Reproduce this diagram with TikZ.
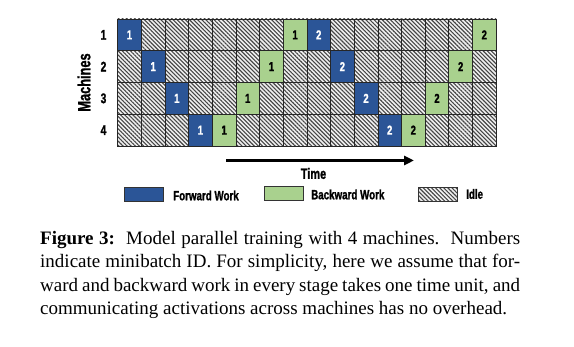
\documentclass[tikz,border=0pt]{standalone}
\usepackage{fontspec}
\setmainfont{Liberation Serif}
\newfontfamily\cond[FakeStretch=0.73,FakeBold=1.2]{Liberation Sans Bold}
\usetikzlibrary{patterns.meta,arrows.meta}
\definecolor{fwd}{RGB}{43,85,151}
\definecolor{bwd}{RGB}{169,209,142}
\definecolor{hatchc}{RGB}{70,70,70}
\begin{document}
\begin{tikzpicture}[x=1pt,y=-1pt,
  cell/.style={draw=black!85, line width=0.7pt, minimum width=23.65pt, minimum height=31.75pt,
    inner sep=0pt, outer sep=0pt, anchor=north west},
  idle/.style={cell, preaction={fill=gray!12},
    pattern={Lines[angle=-45,distance=2.9pt,line width=1.1pt]}, pattern color=hatchc},
  fw/.style={cell, fill=fwd, text=white, font=\cond\fontsize{13}{14}\selectfont},
  bw/.style={cell, fill=bwd, text=black, font=\cond\fontsize{13}{14}\selectfont},
  lab/.style={font=\cond\fontsize{13.4}{15}\selectfont, inner sep=0pt},
  legbox/.style={draw=black!80, line width=0.6pt, minimum width=39pt, minimum height=13.5pt, inner sep=0pt},
  captext/.style={font=\fontsize{19}{23.4}\selectfont, inner sep=0pt, anchor=base west}
]
\useasboundingbox (0,0) rectangle (574,347);
% idle grid
\foreach \r in {1,...,4}
  \foreach \c in {1,...,16}
    \node[idle] (i\r-\c) at ({117.7+(\c-1)*23.65},{19+(\r-1)*31.75}) {};
% work cells
\foreach \r/\c/\t/\n in {1/1/fw/1, 1/8/bw/1, 1/9/fw/2, 1/16/bw/2,
                          2/2/fw/1, 2/7/bw/1, 2/10/fw/2, 2/15/bw/2,
                          3/3/fw/1, 3/6/bw/1, 3/11/fw/2, 3/14/bw/2,
                          4/4/fw/1, 4/5/bw/1, 4/12/fw/2, 4/13/bw/2}
  \node[\t] (w\r-\c) at (i\r-\c.north west) {\n};
% row labels
\foreach \r in {1,...,4}
  \node[lab, font=\cond\fontsize{14}{15}\selectfont] (r\r) at (103.5,{19+(\r-0.5)*31.75}) {\r};
\node[lab, font=\cond\fontsize{17.5}{19}\selectfont, rotate=90] (mach) at (84,82.5) {Machines};
% time arrow
\coordinate (ta) at (226,160.5);
\coordinate (tb) at (414,160.5);
\draw[line width=3pt, -{Triangle[length=10pt,width=9pt]}] (ta) -- (tb);
\node[lab, font=\cond\fontsize{15}{16}\selectfont] (time) at (313.5,173.5) {Time};
% legend
\node[legbox, fill=fwd] (lf) at (143.5,194.5) {};
\node[lab, anchor=west] (lft) at (173,195.5) {Forward Work};
\node[legbox, fill=bwd] (lb) at (284,193.5) {};
\node[lab, anchor=west] (lbt) at (311,194.5) {Backward Work};
\node[legbox, preaction={fill=gray!12}, pattern={Lines[angle=-45,distance=2.9pt,line width=1.1pt]}, pattern color=hatchc] (li) at (437.5,194.5) {};
\node[lab, anchor=west] (lit) at (466,194) {Idle};
% caption
\node[captext] (c1) at (40,244.3) {\makebox[480pt][s]{\textbf{Figure 3:}\ \ Model parallel training with 4 machines.\ \ Numbers}};
\node[captext] (c2) at (40,267.7) {\makebox[480pt][s]{indicate minibatch ID. For simplicity, here we assume that for-}};
\node[captext] (c3) at (40,291.1) {\makebox[480pt][s]{ward and backward work in every stage takes one time unit, and}};
\node[captext] (c4) at (40,314.5) {communicating activations across machines has no overhead.};
\end{tikzpicture}
\end{document}
